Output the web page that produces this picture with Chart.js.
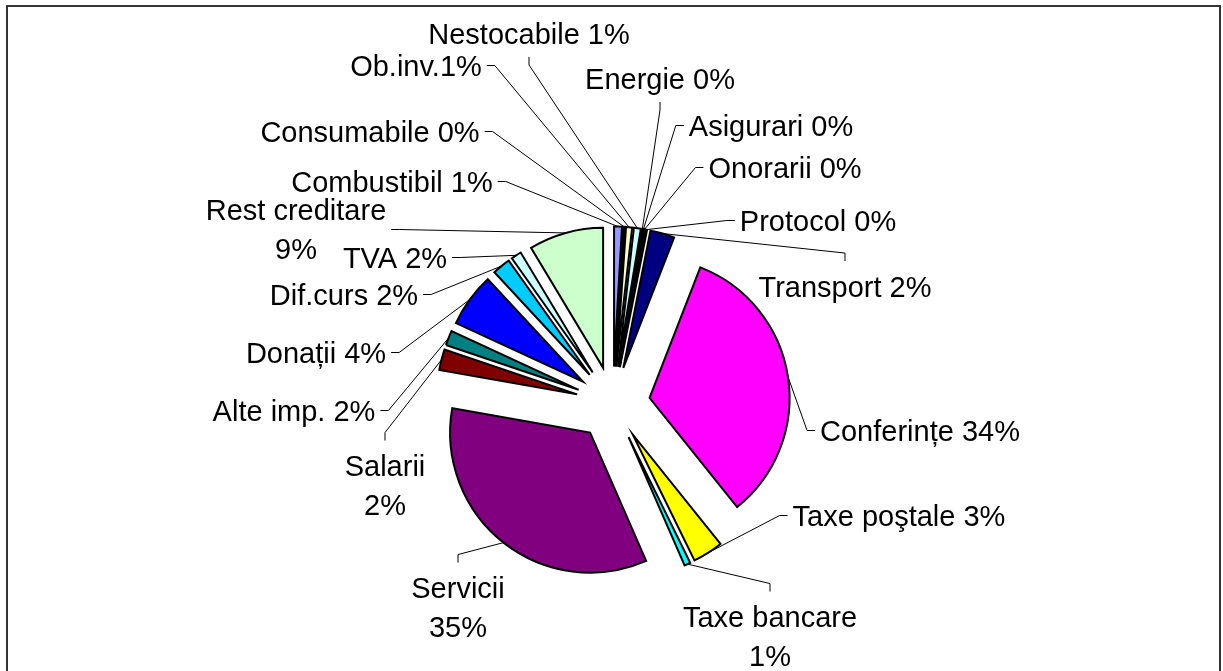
<!DOCTYPE html>
<html lang="ro">
<head>
<meta charset="utf-8">
<title>Structura cheltuielilor</title>
<script src="https://cdn.jsdelivr.net/npm/chart.js@4.4.1/dist/chart.umd.min.js"></script>
<style>
  html, body { margin: 0; padding: 0; background: #fff; overflow: hidden; }
  #frame { position: absolute; left: 6px; top: 5px; width: 1211px; height: 700px; border: 2px solid #333; }
  #wrap { position: absolute; left: 0; top: 0; width: 1223px; height: 671px; }
</style>
</head>
<body>
<div id="frame"></div>
<div id="wrap"><canvas id="chart" width="1223" height="671"></canvas></div>
<script>
// categorii, in ordinea feliilor (de la ora 12, in sensul acelor de ceas)
const categories = [
  'Combustibil', 'Consumabile', 'Ob.inv.', 'Nestocabile', 'Energie', 'Asigurari',
  'Onorarii', 'Protocol', 'Transport', 'Conferințe', 'Taxe poştale', 'Taxe bancare',
  'Servicii', 'Salarii', 'Alte imp.', 'Donații', 'Dif.curs', 'TVA', 'Rest creditare',
];

// ponderi (%) citite dupa unghiul feliilor
const shares = [
  0.9, 0.2, 0.7, 0.8, 0.1, 0.1,
  0.1, 0.2, 2.8, 33.3, 3.5, 0.7,
  34.3, 2.4, 1.7, 6.2, 2.1, 1.2, 8.6,
];

// etichetele asa cum apar pe grafic
const labelTexts = [
  'Combustibil 1%', 'Consumabile 0%', 'Ob.inv.1%', 'Nestocabile 1%', 'Energie 0%', 'Asigurari 0%',
  'Onorarii 0%', 'Protocol 0%', 'Transport 2%', 'Conferințe 34%', 'Taxe poştale 3%', 'Taxe bancare\n1%',
  'Servicii\n35%', 'Salarii\n2%', 'Alte imp. 2%', 'Donații 4%', 'Dif.curs 2%', 'TVA 2%', 'Rest creditare\n9%',
];

const colors = [
  '#9999FF', '#993366', '#FFFFCC', '#CCFFFF', '#660066', '#FF8080',
  '#0066CC', '#CCCCFF', '#000080', '#FF00FF', '#FFFF00', '#00FFFF',
  '#800080', '#800000', '#008080', '#0000FF', '#00CCFF', '#CCFFFF', '#CCFFCC',
];

// pozitia etichetelor fata de centrul pie-ului (px) si partea de unde pleaca linia
const labelOffsets = [
  [-221, -222], [-243, -272], [-197, -338], [-84, -370], [47, -325], [158, -278],
  [172, -236], [205, -183], [232, -117], [307, 27], [286, 112], [157, 233],
  [-155, 204], [-228, 82], [-319, 7], [-297, -51], [-269, -109], [-218, -146], [-317, -174],
];
const leaderSides = [
  'r', 'r', 'r', 'b', 'b', 'l',
  'l', 'l', 't', 'l', 'l', 't',
  't', 't', 'r', 'r', 'r', 'r', 'r',
];

const EXPLODE = 37;
const RADIUS = 140;
const FONT_SIZE = 29;
const LINE_HEIGHT = 39;
const CAP_SHIFT = FONT_SIZE * 0.36;

// pie cu toate feliile departate de centru cu aceeasi distanta
class ExplodedPieController extends Chart.PieController {
  updateElement(arc, index, props, mode) {
    if (props && props.startAngle !== undefined && props.x !== undefined) {
      const mid = (props.startAngle + props.endAngle) / 2;
      props.x += Math.cos(mid) * EXPLODE;
      props.y += Math.sin(mid) * EXPLODE;
    }
    super.updateElement(arc, index, props, mode);
  }
}
ExplodedPieController.id = 'explodedPie';
Chart.register(ExplodedPieController);

const pieLabels = {
  id: 'pieLabels',
  afterDatasetsDraw(chart) {
    const ctx = chart.ctx;
    const meta = chart.getDatasetMeta(0);
    const area = chart.chartArea;
    const cx = (area.left + area.right) / 2;
    const cy = (area.top + area.bottom) / 2;

    ctx.save();
    ctx.font = FONT_SIZE + 'px "Liberation Sans", Arial, sans-serif';
    ctx.fillStyle = '#000';
    ctx.strokeStyle = '#000';
    ctx.lineWidth = 1;
    ctx.textAlign = 'center';
    ctx.textBaseline = 'alphabetic';

    meta.data.forEach((arc, i) => {
      const lines = labelTexts[i].split('\n');
      const lx = cx + labelOffsets[i][0];
      const ly = cy + labelOffsets[i][1];
      const firstMid = ly - ((lines.length - 1) * LINE_HEIGHT) / 2;
      const lastMid = firstMid + (lines.length - 1) * LINE_HEIGHT;
      const w = Math.max(...lines.map((t) => ctx.measureText(t).width));

      lines.forEach((t, k) => ctx.fillText(t, lx, firstMid + k * LINE_HEIGHT + CAP_SHIFT));

      // linia de legatura: de la mijlocul arcului pana la eticheta
      const mid = (arc.startAngle + arc.endAngle) / 2;
      const px = arc.x + Math.cos(mid) * arc.outerRadius;
      const py = arc.y + Math.sin(mid) * arc.outerRadius;
      let ex, ey, tx, ty;
      const side = leaderSides[i];
      if (side === 'r') {
        ex = lx + w / 2 + 5; ey = ly; tx = ex + 8; ty = ey;
      } else if (side === 'l') {
        ex = lx - w / 2 - 5; ey = ly; tx = ex - 8; ty = ey;
      } else if (side === 't') {
        ex = lx; ey = firstMid - CAP_SHIFT - 15; tx = ex; ty = ey - 8;
      } else {
        ex = lx; ey = lastMid + CAP_SHIFT + 13; tx = ex; ty = ey + 8;
      }
      ctx.beginPath();
      ctx.moveTo(px, py);
      ctx.lineTo(tx, ty);
      ctx.lineTo(ex, ey);
      ctx.stroke();
    });
    ctx.restore();
  },
};

new Chart(document.getElementById('chart'), {
  type: 'explodedPie',
  data: {
    labels: categories,
    datasets: [
      {
        data: shares,
        backgroundColor: colors,
        borderColor: '#000',
        borderWidth: 2,
        borderJoinStyle: 'miter',
        radius: RADIUS,
        cutout: 0,
      },
    ],
  },
  options: {
    responsive: false,
    animation: false,
    events: [],
    layout: { padding: { top: 136, left: 3, right: 0, bottom: 0 } },
    plugins: {
      legend: { display: false },
      tooltip: { enabled: false },
    },
  },
  plugins: [pieLabels],
});
</script>
</body>
</html>
